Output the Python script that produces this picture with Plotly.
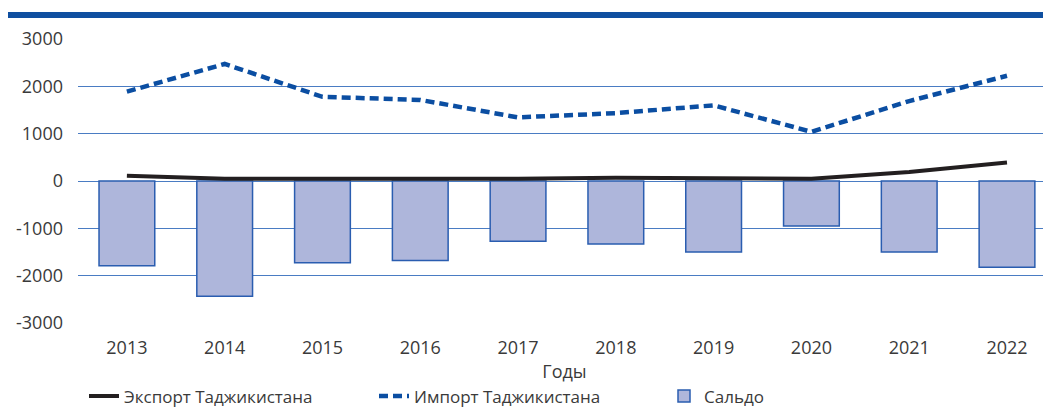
import plotly.graph_objects as go

years = ["2013", "2014", "2015", "2016", "2017", "2018", "2019", "2020", "2021", "2022"]
export_tj = [110, 50, 45, 45, 50, 70, 70, 50, 190, 390]
import_tj = [1890, 2475, 1780, 1715, 1345, 1435, 1600, 1040, 1690, 2225]
saldo = [-1790, -2435, -1730, -1680, -1275, -1330, -1500, -950, -1500, -1825]

y_ticks = [3000, 2000, 1000, 0, -1000, -2000, -3000]

FONT = "Open Sans"
TXT = "#3a3a3a"
GRID = "#4a7cc3"

fig = go.Figure()
fig.add_trace(go.Bar(
    x=years, y=saldo, name="Сальдо", width=0.57, legendrank=3,
    marker=dict(color="#aeb6db", line=dict(color="#2a5db0", width=1.5)),
))
fig.add_trace(go.Scatter(
    x=years, y=export_tj, name="Экспорт Таджикистана", mode="lines", legendrank=1,
    line=dict(color="#231f20", width=4),
))
fig.add_trace(go.Scatter(
    x=years, y=import_tj, name="Импорт Таджикистана", mode="lines", legendrank=2,
    line=dict(color="#0b4ea2", width=4.5, dash="9px,5px"),
))

# page has an 8px body margin; figure coordinates = screen - 8
OFF = 8
W = 1051 - OFF
H = 407 - OFF
left = 78 - OFF
top = 39 - OFF
bottom = 322.6 - OFF
ph = bottom - top
pw = W - left

fig.update_layout(
    width=W, height=H,
    margin=dict(l=left, r=0, t=top, b=H - bottom, autoexpand=False),
    paper_bgcolor="white", plot_bgcolor="white",
    font=dict(family=FONT, size=18, color=TXT),
    showlegend=True,
    legend=dict(
        orientation="h", x=6 / pw, xanchor="left",
        y=(bottom - (H + 7)) / ph, yanchor="bottom",
        entrywidth=245, entrywidthmode="pixels",
        font=dict(family=FONT, size=17, color=TXT),
        bgcolor="rgba(0,0,0,0)",
    ),
    xaxis=dict(
        type="category", categoryorder="array", categoryarray=years,
        range=[-0.5, 9.45], showgrid=False, zeroline=False, showline=False,
        ticks="", ticklabelstandoff=12,
        tickfont=dict(family=FONT, size=18, color=TXT),
        title=dict(text="Годы", standoff=7, font=dict(family=FONT, size=18, color=TXT)),
    ),
    yaxis=dict(
        range=[-3003, 3003], tickvals=y_ticks, ticktext=[str(v) for v in y_ticks],
        showgrid=True, gridcolor=GRID, gridwidth=1,
        zeroline=True, zerolinecolor=GRID, zerolinewidth=1,
        showline=False, ticks="", ticklabelstandoff=14,
        tickfont=dict(family=FONT, size=18, color=TXT),
    ),
    shapes=[dict(
        type="rect", xref="paper", yref="paper",
        x0=(0 - left) / pw, x1=1.0,
        y0=(bottom - (18 - OFF)) / ph, y1=(bottom - (12 - OFF)) / ph,
        fillcolor="#0f4fa0", line=dict(width=0), layer="above",
    )],
)

fig.write_html("out.html")
